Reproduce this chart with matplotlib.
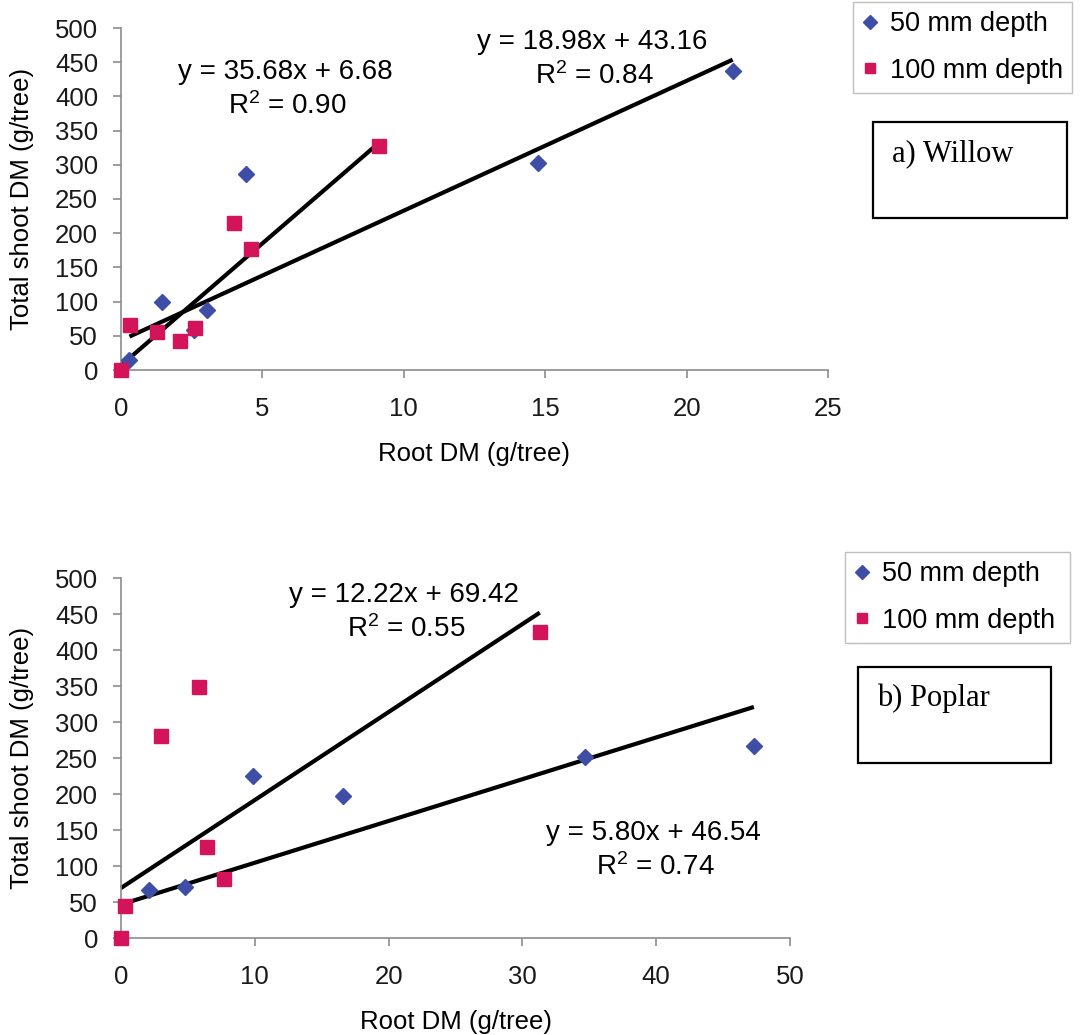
import matplotlib
matplotlib.use("Agg")
import matplotlib.pyplot as plt
import numpy as np
from matplotlib.patches import Rectangle
from matplotlib.lines import Line2D

plt.rcParams['font.family'] = ['Liberation Sans', 'DejaVu Sans']
plt.rcParams['mathtext.fontset'] = 'custom'
plt.rcParams['mathtext.rm'] = 'Liberation Sans'
plt.rcParams['mathtext.it'] = 'Liberation Sans'

# ---- Willow data (root DM vs total shoot DM, g/tree) ----
willow_50_root = [0.30, 1.44, 2.59, 3.04, 4.42, 14.75, 21.63]
willow_50_shoot = [15, 100, 58, 87, 286, 303, 437]
willow_100_root = [0.0, 0.32, 1.27, 2.09, 2.62, 3.98, 4.61, 9.12]
willow_100_shoot = [0, 66, 56, 42, 62, 215, 177, 328]
willow_fit_50 = (18.98, 43.16, 0.84)
willow_fit_100 = (35.68, 6.68, 0.90)

# ---- Poplar data ----
poplar_50_root = [2.06, 4.80, 9.85, 16.6, 34.65, 47.3]
poplar_50_shoot = [67, 71, 225, 197, 251, 267]
poplar_100_root = [0.0, 0.32, 3.0, 5.84, 6.42, 7.71, 31.3]
poplar_100_shoot = [0, 45, 280, 348, 127, 82, 425]
poplar_fit_50 = (5.80, 46.54, 0.74)
poplar_fit_100 = (12.22, 69.42, 0.55)

# x-ranges over which the trend lines are drawn
willow_line_50 = (0.30, 21.63)
willow_line_100 = (0.0, 9.12)
poplar_line_50 = (0.0, 47.3)
poplar_line_100 = (0.0, 31.3)

BLUE = '#3E4EA6'
PINK = '#D3145B'
GRAY = '#8C8C8C'
W, H = 1081, 1035

fig = plt.figure(figsize=(W / 100, H / 100), dpi=100)


def fbox(x0, y0, x1, y1):
    """Pixel box (top-left origin) -> figure fraction [l, b, w, h]."""
    return [x0 / W, 1 - y1 / H, (x1 - x0) / W, (y1 - y0) / H]


def style_axes(ax, xmax, xstep):
    ax.set_ylim(0, 500)
    ax.set_xlim(0, xmax)
    ax.set_yticks(np.arange(0, 501, 50))
    ax.set_xticks(np.arange(0, xmax + 0.1, xstep))
    for s in ('top', 'right'):
        ax.spines[s].set_visible(False)
    for s in ('left', 'bottom'):
        ax.spines[s].set_color(GRAY)
        ax.spines[s].set_linewidth(1.2)
    ax.tick_params(axis='both', direction='out', length=5.5, width=1.2,
                   color=GRAY, labelsize=18.5, labelcolor='#1a1a1a')
    ax.tick_params(axis='y', pad=11)
    ax.tick_params(axis='x', pad=14)
    ax.set_ylabel('Total shoot DM (g/tree)', fontsize=18.5, labelpad=15)
    ax.set_xlabel('Root DM (g/tree)', fontsize=18.5, labelpad=15)


def draw_panel(ax, r50, s50, r100, s100, fit50, fit100, rng50, rng100):
    for (m, b, _), rng in ((fit50, rng50), (fit100, rng100)):
        xs = np.array(rng)
        ax.plot(xs, m * xs + b, color='black', lw=3.0, zorder=2,
                solid_capstyle='butt', clip_on=False)
    ax.plot(r50, s50, linestyle='none', marker='D', ms=8.5, color=BLUE,
            zorder=3, clip_on=False)
    ax.plot(r100, s100, linestyle='none', marker='s', ms=9.5, color=PINK,
            zorder=3, clip_on=False)


def legend(fig, x0, y0, x1, y1):
    handles = [
        Line2D([], [], linestyle='none', marker='D', ms=7, color=BLUE),
        Line2D([], [], linestyle='none', marker='s', ms=7.5, color=PINK),
    ]
    fig.legend(handles, ['50 mm depth', '100 mm depth'],
               bbox_to_anchor=fbox(x0, y0, x1, y1), loc='center left',
               mode='expand', fontsize=19.5, frameon=True, fancybox=False,
               edgecolor='#b0b0b0', handlelength=0.55, handletextpad=0.45,
               borderpad=0.35, labelspacing=0.75, borderaxespad=0)


def label_box(fig, x0, y0, x1, y1, text, tx, ty):
    l, b, w, h = fbox(x0, y0, x1, y1)
    fig.patches.append(Rectangle((l, b), w, h, transform=fig.transFigure,
                                 fill=False, edgecolor='black', lw=1.6))
    fig.text(tx / W, 1 - ty / H, text, fontsize=22, va='center', ha='left',
             family='Liberation Serif')


def eq_text(ax, fit, cx, cy):
    m, b, r2 = fit
    fig.text(cx / W, 1 - cy / H, f'y = {m:.2f}x + {b:.2f}', fontsize=20,
             ha='center', va='center')
    fig.text((cx + 2) / W, 1 - (cy + 34) / H, f'R$^2$ = {r2:.2f}',
             fontsize=20, ha='center', va='center')


# ---- a) Willow ----
ax1 = fig.add_axes(fbox(121, 28, 828, 370))
style_axes(ax1, 25, 5)
draw_panel(ax1, willow_50_root, willow_50_shoot, willow_100_root,
           willow_100_shoot, willow_fit_50, willow_fit_100,
           willow_line_50, willow_line_100)
eq_text(ax1, willow_fit_100, 285, 72)
eq_text(ax1, willow_fit_50, 592, 42)
legend(fig, 853, 3, 1072, 92)
label_box(fig, 873, 122, 1067, 218, 'a) Willow', 892, 154)

# ---- b) Poplar ----
ax2 = fig.add_axes(fbox(121, 578, 790, 938))
style_axes(ax2, 50, 10)
draw_panel(ax2, poplar_50_root, poplar_50_shoot, poplar_100_root,
           poplar_100_shoot, poplar_fit_50, poplar_fit_100,
           poplar_line_50, poplar_line_100)
eq_text(ax2, poplar_fit_100, 404, 595)
eq_text(ax2, poplar_fit_50, 653, 833)
legend(fig, 845, 555, 1070, 640)
label_box(fig, 858, 667, 1051, 763, 'b) Poplar', 877, 698)

fig.savefig('out.png', dpi=100, facecolor='white')
